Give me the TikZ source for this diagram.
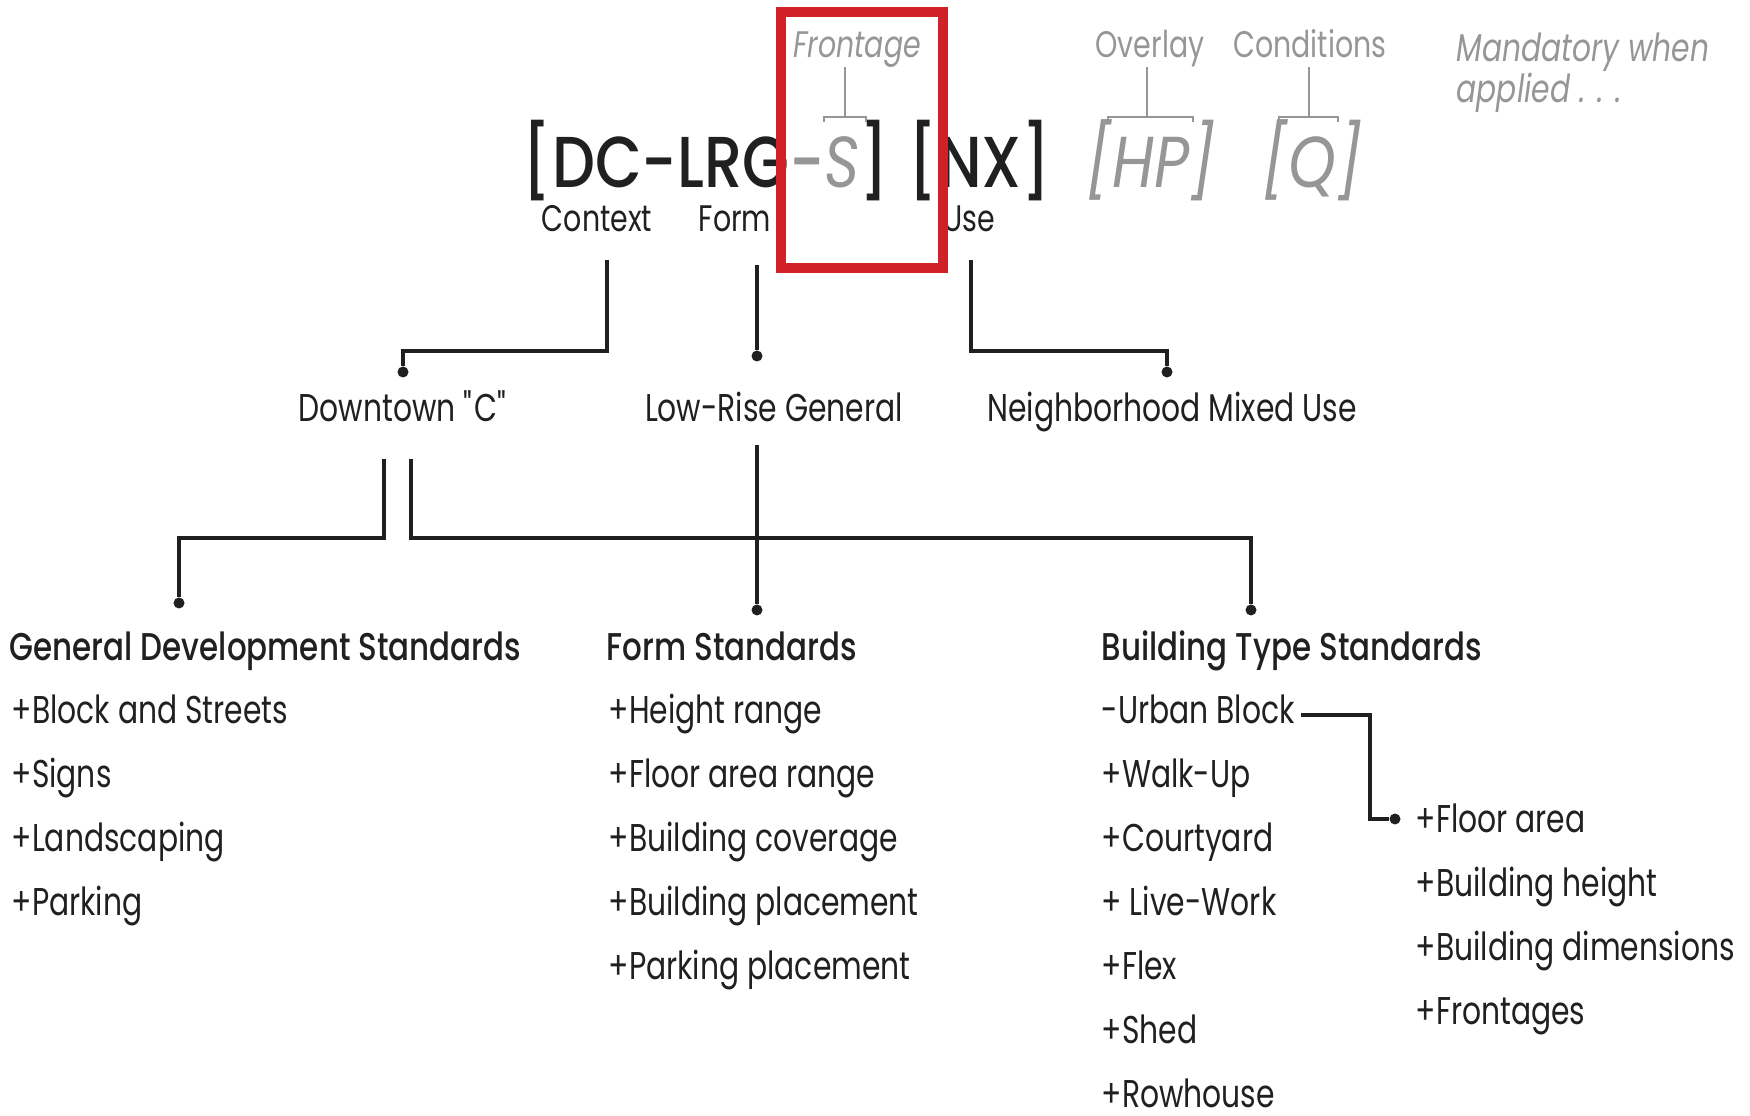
\documentclass[tikz,border=0pt]{standalone}
\usepackage{fontspec}
\setmainfont{Poppins}[FakeStretch=0.77, BoldFont={Poppins Medium}, BoldFeatures={FakeStretch=0.8}]
\newfontfamily\codefont{Poppins Medium}[FakeStretch=0.84, ItalicFont={Poppins Italic}, ItalicFeatures={FakeStretch=0.84}]
\usetikzlibrary{positioning,calc}

\definecolor{inkBlack}{RGB}{32,32,32}
\definecolor{tagGray}{RGB}{150,150,153}
\definecolor{boxRed}{RGB}{208,32,40}

\begin{document}
\begin{tikzpicture}[
        x=0.01cm, y=-0.01cm,
        font=\fontsize{11}{13}\selectfont,
        text=inkBlack,
        item/.style={anchor=base west, inner sep=0pt},
        heading/.style={anchor=base west, inner sep=0pt, font=\fontsize{11}{13}\selectfont\bfseries},
        zone/.style={anchor=base, inner sep=0pt},
        part/.style={anchor=base, inner sep=0pt, font=\fontsize{10.5}{12}\selectfont},
        tag/.style={inner sep=0pt, text=tagGray, font=\fontsize{10.5}{13}\selectfont},
        code/.style={anchor=base west, inner sep=0pt, font=\codefont\fontsize{20.5}{22}\selectfont},
        link/.style={draw=inkBlack, line width=1pt},
        bracket/.style={draw=tagGray, line width=0.4pt},
        dot/.style={circle, fill=inkBlack, inner sep=0pt, minimum size=0.11cm}
    ]
    \useasboundingbox (0,0) rectangle (1750,1116);

    % zoning string
    \node[code] (zoning) at (522,188) {[DC-LRG\textcolor{tagGray}{-\textit{S}}]};
    \node[code] (nx) at (908,188) {[NX]};
    \node[code, text=tagGray] (hp) at (1086,188) {\itshape[HP]};
    \node[code, text=tagGray] (q) at (1262,188) {\itshape[Q]};

    \node[tag, anchor=base] (frontage) at (857,58) {\itshape Frontage};
    \node[tag, anchor=base] (overlay) at (1150,58) {Overlay};
    \node[tag, anchor=base] (conditions) at (1310,58) {Conditions};
    \node[tag, anchor=base west, align=left, font=\fontsize{11}{11.7}\selectfont\itshape] (mandatory) at (1456,103) {Mandatory when\\applied . . .};

    \node[part] (context) at (597,232) {Context};
    \node[part] (form) at (735,232) {Form};
    \node[part] (use) at (969,232) {Use};

    % tag brackets
    \draw[bracket] ($(frontage.base)+(-12,9)$) -- ++(0,50) coordinate (fr-mid);
    \draw[bracket] ($(fr-mid)+(-21,5)$) -- ++(0,-5) -- ++(42,0) -- ++(0,5);
    \draw[bracket] ($(overlay.base)+(-3,9)$) -- ++(0,50) coordinate (hp-mid);
    \draw[bracket] ($(hp-mid)+(-39,5)$) -- ++(0,-5) -- ++(85,0) -- ++(0,5);
    \draw[bracket] ($(conditions.base)+(-1,9)$) -- ++(0,50) coordinate (q-mid);
    \draw[bracket] ($(q-mid)+(-30,5)$) -- ++(0,-5) -- ++(59,0) -- ++(0,5);

    % second level
    \node[zone] (downtown) at (404,422) {Downtown \textquotedbl C\textquotedbl};
    \node[zone] (lowrise) at (774,422) {Low-Rise General};
    \node[zone] (mixeduse) at (1172,422) {Neighborhood Mixed Use};

    \node[dot] (ctx-dot) at (403,372) {};
    \node[dot] (frm-dot) at (757,356) {};
    \node[dot] (use-dot) at (1167,372) {};
    \draw[link] ($(context.south)+(10,27)$) -- ++(0,91) -| (ctx-dot);
    \draw[link] ($(form.south)+(22,32)$) -- (frm-dot);
    \draw[link] ($(use.south)+(2,27)$) -- ++(0,91) -| (use-dot);

    % standards
    \node[heading] (gds) at (9,661) {General Development Standards};
    \node[heading] (frs) at (606,661) {Form Standards};
    \node[heading] (bts) at (1101,661) {Building Type Standards};

    \node[dot] (gds-dot) at (179,603) {};
    \node[dot] (frs-dot) at (757,610) {};
    \node[dot] (bts-dot) at (1251,610) {};
    \draw[link] ($(downtown.south)+(-20,36)$) -- ++(0,79) -| (gds-dot);
    \draw[link] ($(downtown.south)+(7,36)$) -- ++(0,79) -| (bts-dot);
    \draw[link] ($(lowrise.south)+(-17,22)$) -- (frs-dot);

    \foreach \txt [count=\i from 0] in {+Block and Streets, +Signs, +Landscaping, +Parking}
        \node[item] (gds-\i) at (11,724+64*\i) {\txt};
    \foreach \txt [count=\i from 0] in {+Height range, +Floor area range, +Building coverage, +Building placement, +Parking placement}
        \node[item] (frs-\i) at (608,724+64*\i) {\txt};
    \foreach \txt [count=\i from 0] in {-Urban Block, +Walk-Up, +Courtyard, + Live-Work, +Flex, +Shed, +Rowhouse}
        \node[item] (bts-\i) at (1101,724+64*\i) {\txt};
    \foreach \txt [count=\i from 0] in {+Floor area, +Building height, +Building dimensions, +Frontages}
        \node[item] (sub-\i) at (1415,833+64*\i) {\txt};

    \node[dot] (sub-dot) at (1395,819) {};
    \draw[link] ($(bts-0.base east)+(6,-9)$) -| ($(sub-dot)+(-25,0)$) -- (sub-dot);

    % highlight
    \node[draw=boxRed, line width=2.85pt, minimum width=1.61cm, minimum height=2.55cm] (highlight) at (862,140) {};

\end{tikzpicture}
\end{document}
